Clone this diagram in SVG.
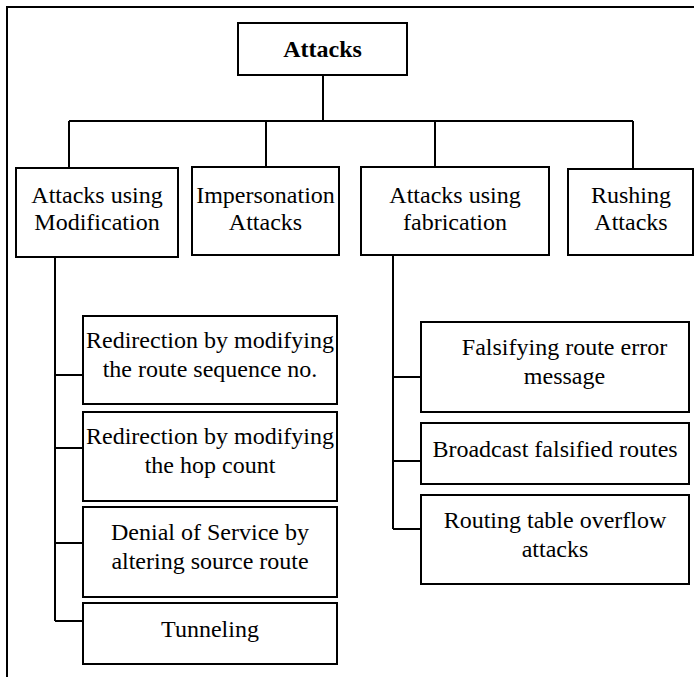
<svg xmlns="http://www.w3.org/2000/svg" width="694" height="677" viewBox="0 0 694 677">
<style>
.box{fill:#fff;stroke:#000;stroke-width:2}
.ln{fill:none;stroke:#000;stroke-width:2}
text{font-family:"Liberation Serif","Times New Roman",serif;font-size:24px;fill:#000;text-anchor:middle}
.b{font-weight:bold}
</style>
<rect x="0" y="0" width="694" height="677" fill="#fff"/>
<rect id="frame" x="7" y="7" width="700" height="700" fill="none" stroke="#000" stroke-width="2"/>
<g id="connectors" class="ln">
<path d="M323 75V121M69 121H633M69 121V168M266 121V167M435 121V167M633 121V169"/>
<path d="M55 257V621M55 375H83M55 448H83M55 543H83M55 621H83"/>
<path d="M393 255V529M393 377H421M393 461H421M393 529H421"/>
</g>
<g id="attacks"><rect class="box" x="238" y="23" width="169" height="52"/><text class="b" x="322.5" y="57">Attacks</text></g>
<g id="modification"><rect class="box" x="16" y="168" width="162" height="89"/><text x="97" y="203">Attacks using</text><text x="97" y="230">Modification</text></g>
<g id="impersonation"><rect class="box" x="192" y="167" width="147" height="88"/><text x="265.5" y="203">Impersonation</text><text x="265.5" y="230">Attacks</text></g>
<g id="fabrication"><rect class="box" x="361" y="167" width="188" height="88"/><text x="455" y="203">Attacks using</text><text x="455" y="230">fabrication</text></g>
<g id="rushing"><rect class="box" x="568" y="169" width="125" height="86"/><text x="631" y="203">Rushing</text><text x="631" y="230">Attacks</text></g>
<g id="redir-seq"><rect class="box" x="83" y="316" width="254" height="88"/><text x="210" y="348">Redirection by modifying</text><text x="210" y="377">the route sequence no.</text></g>
<g id="redir-hop"><rect class="box" x="83" y="412" width="254" height="89"/><text x="210" y="444">Redirection by modifying</text><text x="210" y="473">the hop count</text></g>
<g id="dos"><rect class="box" x="83" y="507" width="254" height="90"/><text x="210" y="540">Denial of Service by</text><text x="210" y="569">altering source route</text></g>
<g id="tunneling"><rect class="box" x="83" y="603" width="254" height="61"/><text x="210" y="637">Tunneling</text></g>
<g id="falsify"><rect class="box" x="421" y="322" width="268" height="90"/><text x="564.5" y="355">Falsifying route error</text><text x="564.5" y="384">message</text></g>
<g id="broadcast"><rect class="box" x="421" y="423" width="268" height="61"/><text x="555" y="457">Broadcast falsified routes</text></g>
<g id="overflow"><rect class="box" x="421" y="495" width="268" height="89"/><text x="555" y="528">Routing table overflow</text><text x="555" y="557">attacks</text></g>
</svg>
